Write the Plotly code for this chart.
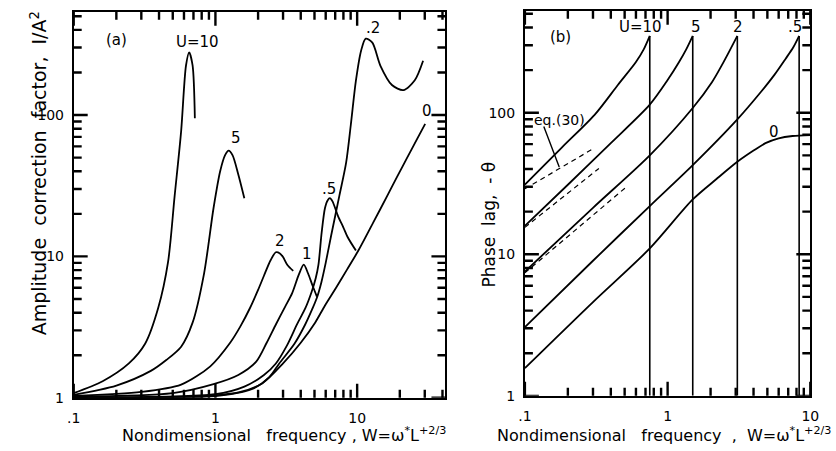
import plotly.graph_objects as go

# ---------------- Panel (a): amplitude correction factor 1/A^2 ----------------
W_a_U10 = [0.1, 0.16, 0.245, 0.319, 0.395, 0.463, 0.515, 0.573, 0.62, 0.653, 0.69, 0.716]
A_U10 = [1.08, 1.31, 1.75, 2.41, 4.33, 9.1, 26.5, 77, 224, 277, 224, 95]

W_a_U5 = [0.1, 0.2, 0.35, 0.45, 0.573, 0.69, 0.83, 0.97, 1.08, 1.17, 1.24, 1.32, 1.45, 1.6]
A_U5 = [1.05, 1.22, 1.55, 1.85, 2.3, 3.4, 7.5, 22, 40, 52, 56, 52, 38, 25.8]

W_a_U2 = [0.1, 0.3, 0.573, 0.92, 1.27, 1.5, 1.75, 2.0, 2.2, 2.45, 2.67, 2.85, 3.0, 3.22, 3.54]
A_U2 = [1.03, 1.1, 1.24, 1.67, 2.45, 3.2, 4.3, 5.8, 7.3, 9.4, 10.7, 10.5, 9.9, 8.7, 7.9]

W_a_U1 = [0.1, 0.5, 0.97, 1.45, 1.94, 2.3, 2.67, 3.1, 3.48, 3.87, 4.2, 4.5, 4.85, 5.2]
A_U1 = [1.02, 1.08, 1.25, 1.45, 1.8, 2.45, 3.3, 4.4, 5.5, 7.4, 8.75, 7.6, 6.2, 5.2]

W_a_U05 = [0.1, 1.0, 1.6, 2.2, 2.67, 3.2, 3.77, 4.31, 4.77, 5.1, 5.33, 5.62, 5.93, 6.2, 6.42,
           6.7, 7.33, 8.0, 8.6, 9.8]
A_U05 = [1.01, 1.06, 1.2, 1.45, 1.75, 2.35, 3.32, 4.3, 5.6, 7.0, 8.7, 14.8, 22, 25, 25.8,
         24.5, 19.3, 16, 13.6, 11.0]

W_a_U02 = [0.1, 1.0, 1.8, 2.4, 2.82, 3.6, 4.3, 4.8, 5.2, 5.6, 6.0, 6.55, 7.5, 8.36, 9.02, 9.8,
           10.66, 11.5, 12.8, 14.6, 17.6, 21.2, 25.5, 29.2]
A_U02 = [1.005, 1.03, 1.15, 1.4, 1.75, 2.4, 3.3, 4.2, 5.1, 6.6, 9.0, 14.0, 27, 46, 85, 175,
         285, 347, 325, 223, 163, 150, 176, 242]

W_a_U0 = [0.1, 0.5, 1.0, 1.5, 2.15, 3.0, 4.0, 5.05, 5.93, 7.1, 8.5, 10.2, 13, 16.3, 19.2,
          22.5, 26, 30.2]
A_U0 = [1.0, 1.01, 1.04, 1.1, 1.27, 1.75, 2.45, 3.4, 4.5, 6.0, 8.1, 11, 17.4, 26.8, 36.8,
        49.7, 65.3, 86.5]

# ---------------- Panel (b): phase lag -theta ----------------
W_b_U10 = [0.1, 0.182, 0.309, 0.448, 0.6, 0.68, 0.75]
T_U10 = [31, 57, 97, 157, 228, 280, 349]

W_b_U5 = [0.1, 0.2, 0.4, 0.75, 1.0, 1.2, 1.35, 1.5]
T_U5 = [15.9, 31, 61, 114, 170, 227, 280, 349]

W_b_U2 = [0.1, 0.3, 0.75, 1.5, 2.05, 2.46, 2.75, 3.08]
T_U2 = [7.55, 21.3, 50, 108, 165, 227, 280, 349]

W_b_U05 = [0.1, 0.3, 0.75, 1.5, 3.08, 4.5, 5.6, 6.7, 7.6, 8.35]
T_U05 = [3.06, 9.0, 21.9, 42.6, 89.7, 140, 185, 240, 290, 349]

W_b_U0 = [0.1, 0.3, 0.75, 1.5, 2.2, 3.08, 4.0, 4.85, 6.0, 7.5, 10]
T_U0 = [1.57, 4.6, 11, 24.4, 34, 45, 54, 61, 66, 68.5, 69.5]

PHASE_FLOOR = 1.0  # vertical drop of each curve down to the bottom axis

# eq.(30) asymptotes (dashed)
W_eq_1 = [0.1, 0.3]
T_eq_1 = [29, 55.6]
W_eq_2 = [0.1, 0.33]
T_eq_2 = [15.5, 40.4]
W_eq_3 = [0.1, 0.52]
T_eq_3 = [7.4, 30.2]

# ticks and tick labels
x_tickvals_a = [0.1, 1, 10]
x_ticktext_a = [".1", "1", "10"]
y_tickvals = [1, 10, 100]
y_ticktext = ["1", "10", "100"]
x_tickvals_b = [0.1, 1, 10]
x_ticktext_b = [".1", "1", "10"]
x_minor = [0.2, 0.3, 0.4, 0.5, 0.6, 0.7, 0.8, 0.9, 2, 3, 4, 5, 6, 7, 8, 9, 20, 30, 40]
y_minor = [2, 3, 4, 5, 6, 7, 8, 9, 20, 30, 40, 50, 60, 70, 80, 90, 200, 300, 400, 500]

# ---------------- figure ----------------
FIG_W, FIG_H = 836, 451
FONT = "DejaVu Sans"
LINE = dict(color="black", width=1.8)
MAJOR_LEN, MINOR_LEN = 14, 8
TICK_W = 2.4


def px(x, y):
    return x / FIG_W, 1 - y / FIG_H


fig = go.Figure()

curves_a = [(W_a_U10, A_U10), (W_a_U5, A_U5), (W_a_U2, A_U2), (W_a_U1, A_U1),
            (W_a_U05, A_U05), (W_a_U02, A_U02), (W_a_U0, A_U0)]
for xs, ys in curves_a:
    fig.add_trace(go.Scatter(x=xs, y=ys, mode="lines", line=dict(**LINE, shape="spline", smoothing=0.8),
                             xaxis="x", yaxis="y", showlegend=False, hoverinfo="skip"))

curves_b = [(W_b_U10, T_U10), (W_b_U5, T_U5), (W_b_U2, T_U2), (W_b_U05, T_U05)]
for xs, ys in curves_b:
    fig.add_trace(go.Scatter(x=xs, y=ys, mode="lines", line=dict(**LINE, shape="spline", smoothing=0.8),
                             xaxis="x2", yaxis="y2", showlegend=False, hoverinfo="skip"))
    fig.add_trace(go.Scatter(x=[xs[-1], xs[-1]], y=[ys[-1], PHASE_FLOOR], mode="lines",
                             line=dict(color="black", width=1.6),
                             xaxis="x2", yaxis="y2", showlegend=False, hoverinfo="skip"))
fig.add_trace(go.Scatter(x=W_b_U0, y=T_U0, mode="lines", line=dict(**LINE, shape="spline", smoothing=0.8),
                         xaxis="x2", yaxis="y2", showlegend=False, hoverinfo="skip"))

for xs, ys in [(W_eq_1, T_eq_1), (W_eq_2, T_eq_2), (W_eq_3, T_eq_3)]:
    fig.add_trace(go.Scatter(x=xs, y=ys, mode="lines",
                             line=dict(color="black", width=1.2, dash="5px,4px"),
                             xaxis="x2", yaxis="y2", showlegend=False, hoverinfo="skip"))

tickfont = dict(family=FONT, size=14, color="black")

XRANGE_A = [-1, 1.623]
YRANGE_A = [0, 2.73]
XRANGE_B = [-1, 1]
YRANGE_B = [0, 2.72]


def axis(rng, dom, vals, text, anchor, standoff):
    return dict(type="log", range=rng, domain=dom, anchor=anchor,
                showgrid=False, zeroline=False, showline=True,
                linecolor="black", linewidth=1.8, mirror=True, ticks="",
                tickmode="array", tickvals=vals, ticktext=text, tickfont=tickfont,
                ticklabelstandoff=standoff)


fig.update_layout(
    width=FIG_W, height=FIG_H, autosize=False,
    margin=dict(l=0, r=0, t=0, b=0),
    paper_bgcolor="white", plot_bgcolor="white",
    xaxis=axis(XRANGE_A, [68 / FIG_W, 447 / FIG_W], x_tickvals_a, x_ticktext_a, "y", 6),
    yaxis=axis(YRANGE_A, [1 - 405 / FIG_H, 1 - 12 / FIG_H], y_tickvals, y_ticktext, "x", 5),
    xaxis2=axis(XRANGE_B, [528 / FIG_W, 819 / FIG_W], x_tickvals_b, x_ticktext_b, "y2", 6),
    yaxis2=axis(YRANGE_B, [1 - 403 / FIG_H, 1 - 11 / FIG_H], y_tickvals, y_ticktext, "x2", 5),
)

# inside tick marks on all four sides of both panels, placed through the axes (data values)
shapes = []


def tick_marks(xref, yref, xrange, yrange, xmajor, ymajor):
    lo_x, hi_x = 10 ** xrange[0], 10 ** xrange[1]
    lo_y, hi_y = 10 ** yrange[0], 10 ** yrange[1]
    for vals, ln in ((xmajor, MAJOR_LEN), (x_minor, MINOR_LEN)):
        for v in vals:
            if not (lo_x <= v <= hi_x):
                continue
            for anchor, sgn in ((0, 1), (1, -1)):
                shapes.append(dict(type="line", layer="above", xref=xref, yref=yref + " domain",
                                   ysizemode="pixel", yanchor=anchor, x0=v, x1=v,
                                   y0=0, y1=sgn * ln, line=dict(color="black", width=TICK_W)))
    for vals, ln in ((ymajor, MAJOR_LEN), (y_minor, MINOR_LEN)):
        for v in vals:
            if not (lo_y <= v <= hi_y):
                continue
            for anchor, sgn in ((0, 1), (1, -1)):
                shapes.append(dict(type="line", layer="above", yref=yref, xref=xref + " domain",
                                   xsizemode="pixel", xanchor=anchor, y0=v, y1=v,
                                   x0=0, x1=sgn * ln, line=dict(color="black", width=TICK_W)))


tick_marks("x", "y", XRANGE_A, YRANGE_A, x_tickvals_a, y_tickvals)
tick_marks("x2", "y2", XRANGE_B, YRANGE_B, x_tickvals_b, y_tickvals)
fig.update_layout(shapes=shapes)

ann = []


def label(text, x, y, size=15, **kw):
    xp, yp = px(x, y)
    d = dict(text=text, x=xp, y=yp, xref="paper", yref="paper", showarrow=False,
             font=dict(family=FONT, size=size, color="black"), xanchor="center", yanchor="middle")
    d.update(kw)
    ann.append(d)


# panel (a) labels
label("(a)", 112, 41)
label("U=10", 194, 43)
label("5", 233, 140)
label("2", 278, 245)
label("1", 306, 259)
label(".5", 328, 192)
label(".2", 373, 28)
label("0", 428, 113)
# panel (b) labels
label("(b)", 564, 38)
label("U=10", 646, 27)
label("5", 702, 27)
label("2", 745, 27)
label(".5", 803, 27)
label("0", 782, 134)
label("eq.(30)", 563, 122, size=14)

# eq.(30) pointer
tipx, tipy = px(563, 170)
ann.append(dict(text="", x=tipx, y=tipy, xref="paper", yref="paper", showarrow=True,
                ax=-16, ay=-42, arrowhead=0, arrowwidth=1.4, arrowcolor="black"))

# axis titles
SP = "\u00a0"
label("Amplitude" + SP * 2 + "correction" + SP * 2 + "factor," + SP * 2 + "I/A<sup>2</sup>", 32, 176,
      size=19, textangle=-90)
label("Phase" + SP * 2 + "lag," + SP * 2 + "-" + SP + "θ", 491, 229, size=17, textangle=-90)
label("Nondimensional" + SP * 3 + "frequency" + SP + "," + SP + "W=ω<sup>*</sup>L<sup>+2/3</sup>",
      115, 442, size=16, xanchor="left")
label("Nondimensional" + SP * 3 + "frequency" + SP * 2 + "," + SP * 2 + "W=ω<sup>*</sup>L<sup>+2/3</sup>",
      498, 442, size=16, xanchor="left")

fig.update_layout(annotations=ann)

fig.write_html("out.html")
